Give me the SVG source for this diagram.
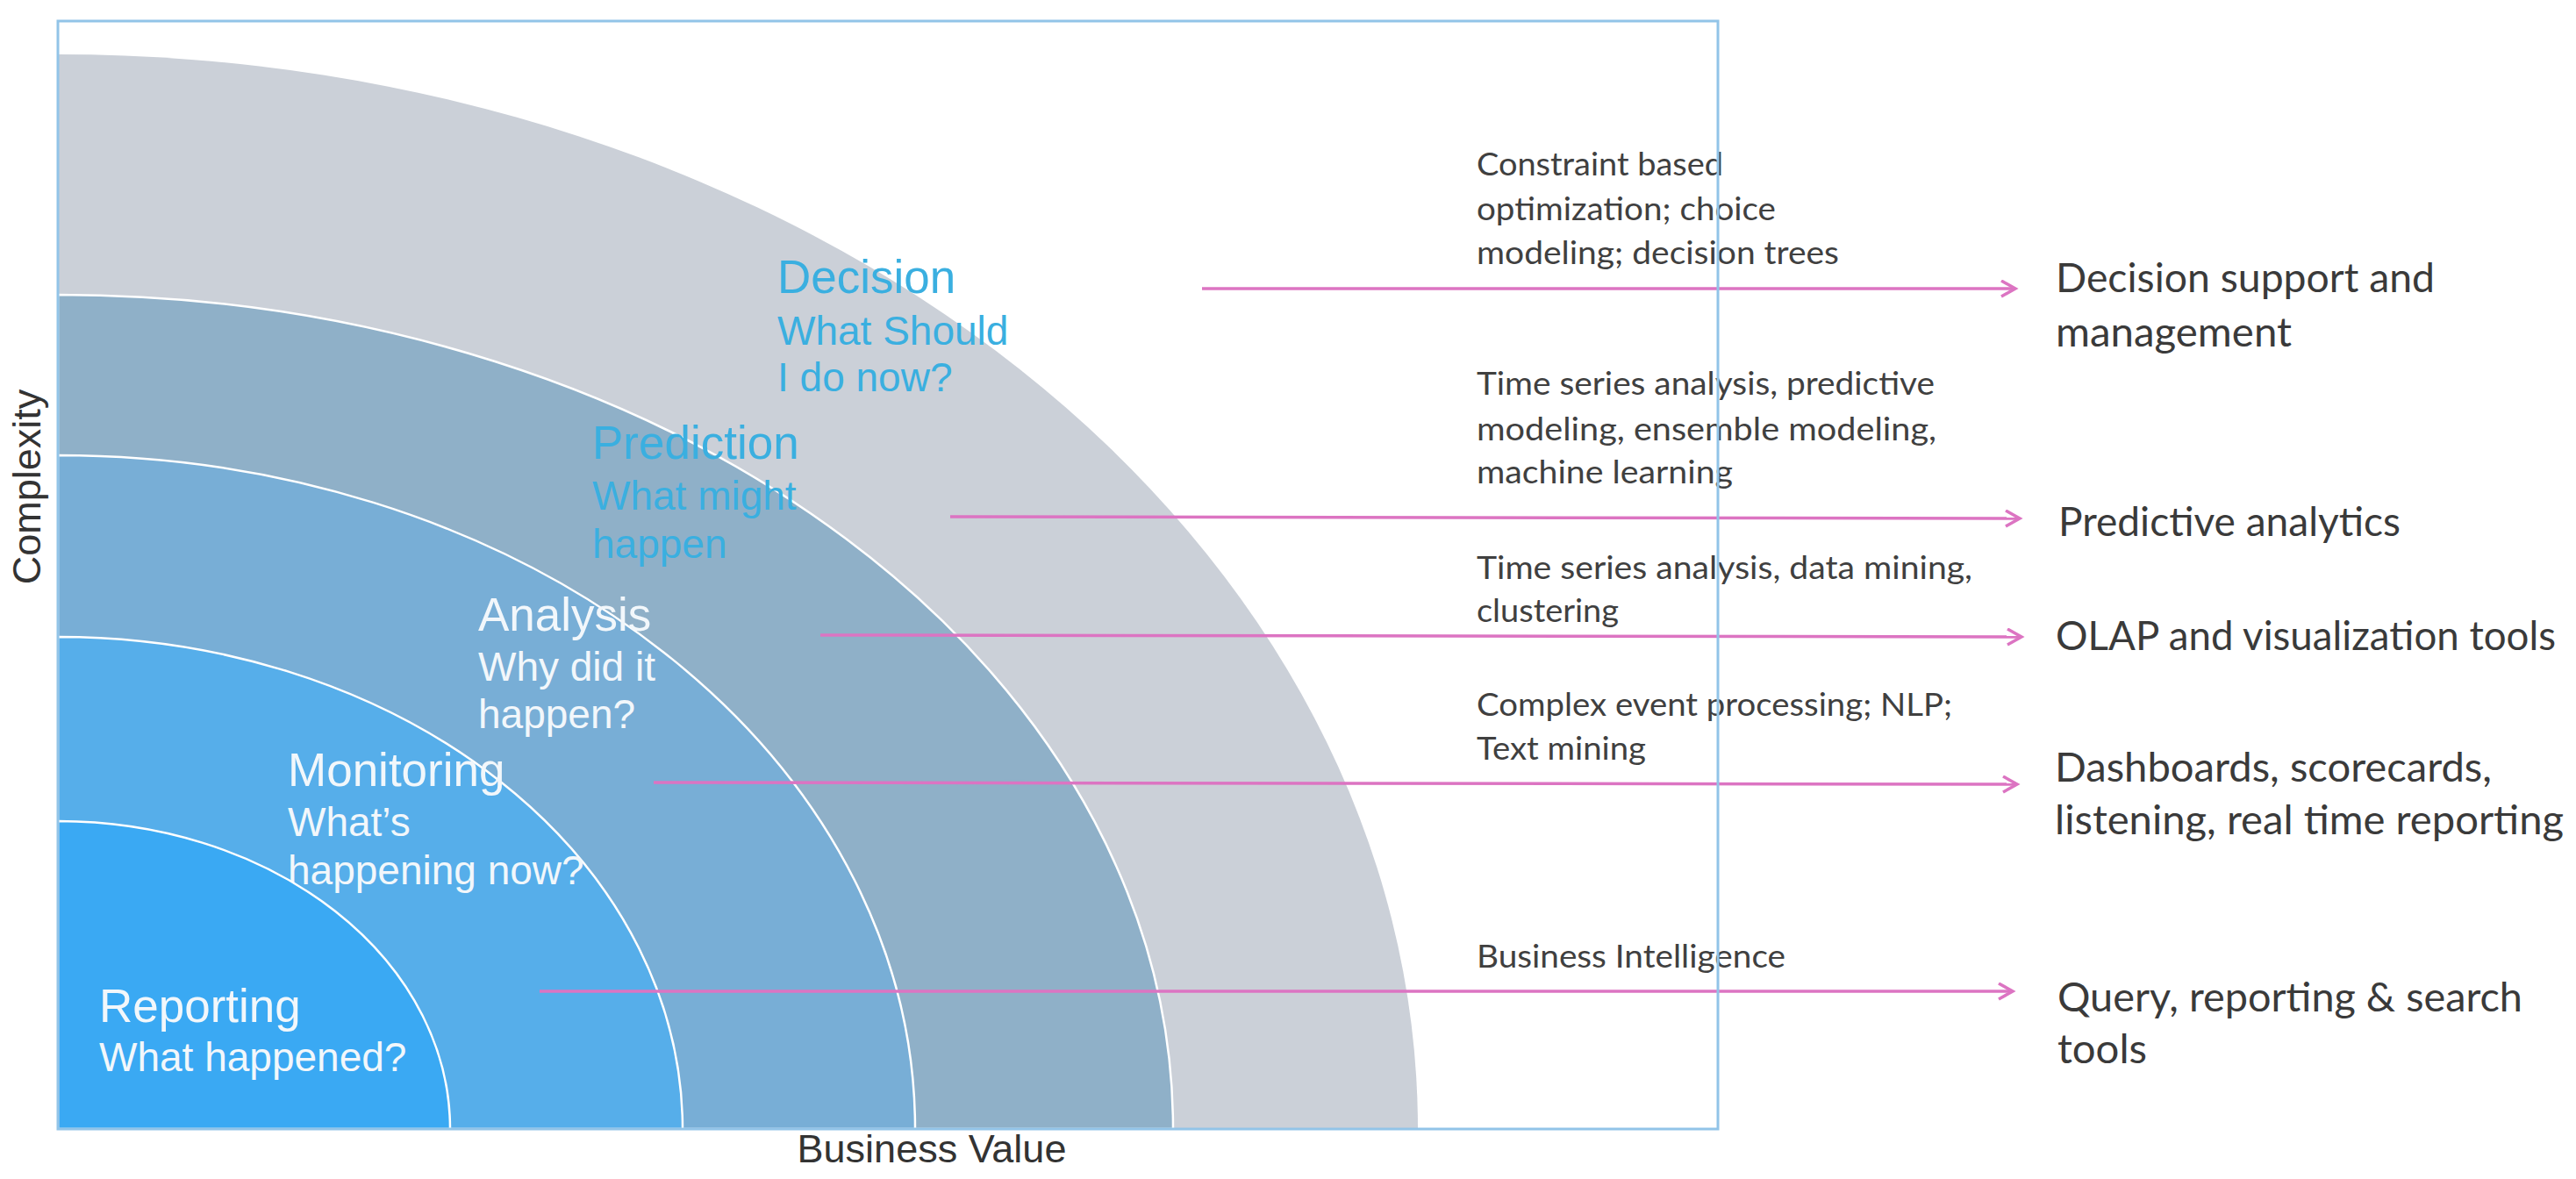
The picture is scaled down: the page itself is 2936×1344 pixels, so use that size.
<svg xmlns="http://www.w3.org/2000/svg" width="2936" height="1344" viewBox="0 0 2936 1344">
<style>
.lvl{font-family:"Liberation Sans",Arial,sans-serif;}
.h{font-size:53px;}
.s{font-size:46px;}
.cy{fill:#3aafe0;}
.wt{fill:#f2f7fb;}
.tech{font-family:Lato,"Open Sans",sans-serif;font-size:36px;fill:#404040;}
.out{font-family:Lato,"Open Sans",sans-serif;font-size:46px;fill:#3a3a3a;}
.axis{font-family:"Liberation Sans",Arial,sans-serif;font-size:45px;fill:#333333;}
.conn{stroke:#dc74c2;stroke-width:3.5;fill:none;marker-end:url(#arr);}
.sep{stroke:#ffffff;stroke-width:2.5;}
</style>
<defs>
<marker id="arr" markerUnits="userSpaceOnUse" markerWidth="24" markerHeight="24" refX="18" refY="10" orient="auto">
<path d="M2,1 L18,10 L2,19" fill="none" stroke="#dc74c2" stroke-width="3.5"/>
</marker>
</defs>
<rect width="2936" height="1344" fill="#ffffff"/>

<g id="band-decision">
<path d="M66,1287 L66,62 A1550,1225 0 0 1 1616,1287 Z" fill="#cbd0d8"/>
<text class="lvl h cy" x="886" y="334">Decision</text>
<text class="lvl s cy" x="886" y="393">What Should</text>
<text class="lvl s cy" x="886" y="446">I do now?</text>
</g>
<g id="band-prediction">
<path class="sep" d="M66,1287 L66,336 A1271,951 0 0 1 1337,1287 Z" fill="#8fb0c8"/>
<text class="lvl h cy" x="675" y="523">Prediction</text>
<text class="lvl s cy" x="675" y="581">What might</text>
<text class="lvl s cy" x="675" y="636">happen</text>
</g>
<g id="band-analysis">
<path class="sep" d="M66,1287 L66,519 A977,768 0 0 1 1043,1287 Z" fill="#78aed6"/>
<text class="lvl h wt" x="545" y="719">Analysis</text>
<text class="lvl s wt" x="545" y="776">Why did it</text>
<text class="lvl s wt" x="545" y="830">happen?</text>
</g>
<g id="band-monitoring">
<path class="sep" d="M66,1287 L66,726 A712,561 0 0 1 778,1287 Z" fill="#56aeea"/>
<text class="lvl h wt" x="328" y="896">Monitoring</text>
<text class="lvl s wt" x="328" y="953">What’s</text>
<text class="lvl s wt" x="328" y="1008">happening now?</text>
</g>
<g id="band-reporting">
<path class="sep" d="M66,1287 L66,936 A447,351 0 0 1 513,1287 Z" fill="#3aa9f3"/>
<text class="lvl h wt" x="113" y="1165">Reporting</text>
<text class="lvl s wt" x="113" y="1221">What happened?</text>
</g>

<g id="techniques">
<text class="tech" x="1683" y="200" textLength="281" lengthAdjust="spacingAndGlyphs">Constraint based</text>
<text class="tech" x="1683" y="251" textLength="341" lengthAdjust="spacingAndGlyphs">optimization; choice</text>
<text class="tech" x="1683" y="301" textLength="413" lengthAdjust="spacingAndGlyphs">modeling; decision trees</text>
<text class="tech" x="1683" y="450" textLength="522" lengthAdjust="spacingAndGlyphs">Time series analysis, predictive</text>
<text class="tech" x="1683" y="502" textLength="524" lengthAdjust="spacingAndGlyphs">modeling, ensemble modeling,</text>
<text class="tech" x="1683" y="551" textLength="292" lengthAdjust="spacingAndGlyphs">machine learning</text>
<text class="tech" x="1683" y="660" textLength="565" lengthAdjust="spacingAndGlyphs">Time series analysis, data mining,</text>
<text class="tech" x="1683" y="709" textLength="162" lengthAdjust="spacingAndGlyphs">clustering</text>
<text class="tech" x="1683" y="816" textLength="542" lengthAdjust="spacingAndGlyphs">Complex event processing; NLP;</text>
<text class="tech" x="1683" y="866" textLength="193" lengthAdjust="spacingAndGlyphs">Text mining</text>
<text class="tech" x="1683" y="1103" textLength="352" lengthAdjust="spacingAndGlyphs">Business Intelligence</text>
</g>

<g id="outcomes">
<text class="out" x="2343" y="333" textLength="432" lengthAdjust="spacingAndGlyphs">Decision support and</text>
<text class="out" x="2343" y="395" textLength="269" lengthAdjust="spacingAndGlyphs">management</text>
<text class="out" x="2346" y="611" textLength="390" lengthAdjust="spacingAndGlyphs">Predictive analytics</text>
<text class="out" x="2343" y="741" textLength="570" lengthAdjust="spacingAndGlyphs">OLAP and visualization tools</text>
<text class="out" x="2342" y="891" textLength="498" lengthAdjust="spacingAndGlyphs">Dashboards, scorecards,</text>
<text class="out" x="2342" y="951" textLength="580" lengthAdjust="spacingAndGlyphs">listening, real time reporting</text>
<text class="out" x="2345" y="1153" textLength="530" lengthAdjust="spacingAndGlyphs">Query, reporting &amp; search</text>
<text class="out" x="2345" y="1212" textLength="102" lengthAdjust="spacingAndGlyphs">tools</text>
</g>

<g id="connectors">
<line class="conn" x1="1370" y1="329" x2="2297" y2="329"/>
<line class="conn" x1="1083" y1="589" x2="2302" y2="591"/>
<line class="conn" x1="935" y1="724" x2="2304" y2="726"/>
<line class="conn" x1="745" y1="892" x2="2299" y2="894"/>
<line class="conn" x1="615" y1="1130" x2="2294" y2="1130"/>
</g>

<g id="frame">
<rect x="66" y="24" width="1892" height="1263" fill="none" stroke="#92c4e8" stroke-width="3"/>
</g>

<g id="axes">
<text class="axis" transform="translate(46,555) rotate(-90)" text-anchor="middle">Complexity</text>
<text class="axis" x="1062" y="1325" text-anchor="middle">Business Value</text>
</g>
</svg>
